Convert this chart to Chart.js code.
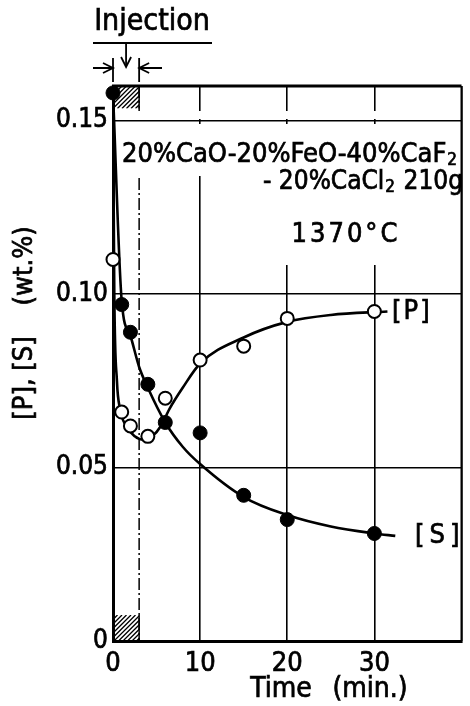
<!DOCTYPE html>
<html>
<head>
<meta charset="utf-8">
<script src="https://cdn.jsdelivr.net/npm/chart.js@4.4.1/dist/chart.umd.min.js"></script>
<style>
  html, body { margin: 0; padding: 0; background: #fff; }
  #wrap { width: 470px; height: 706px; }
</style>
</head>
<body>
<div id="wrap"><canvas id="chart" width="470" height="706"></canvas></div>
<script>
// measured points
const sTime = [0, 1, 2, 4, 6, 10, 15, 20, 30];
const sVals = [0.158, 0.097, 0.089, 0.074, 0.063, 0.060, 0.042, 0.035, 0.031];
const pTime = [0, 1, 2, 4, 6, 10, 15, 20, 30];
const pVals = [0.110, 0.066, 0.062, 0.059, 0.070, 0.081, 0.085, 0.093, 0.095];

// drawn (fitted) curves
const sCurveX = [0, 1, 2, 3, 4, 6, 8, 10, 15, 20, 25, 30, 32.4];
const sCurveY = [0.158, 0.098, 0.088, 0.079, 0.073, 0.063, 0.056, 0.051, 0.0415, 0.0363, 0.033, 0.031, 0.0303];
const pCurveX = [0, 0.15, 0.45, 0.8, 1.5, 2.5, 3.5, 4.5, 5.5, 6.5, 8, 10, 15, 20, 25, 31.5];
const pCurveY = [0.157, 0.100, 0.075, 0.067, 0.062, 0.059, 0.058, 0.059, 0.062, 0.067, 0.073, 0.080, 0.0875, 0.092, 0.094, 0.095];

const xTicks = [0, 10, 20, 30, 40];
const xLabels = ['0', '10', '20', '30', ''];
const yTicks = [0, 0.05, 0.10, 0.15];
const yLabels = ['0', '0.05', '0.10', '0.15'];

const injectStart = 0, injectEnd = 3;

const FONT = '"DejaVu Sans Condensed", "Liberation Sans Narrow", "DejaVu Sans", sans-serif';

const pts = (xs, ys) => xs.map((v, i) => ({ x: v, y: ys[i] }));

function hatch(ctx, x0, y0, x1, y1) {
  ctx.save();
  ctx.beginPath();
  ctx.rect(x0, y0, x1 - x0, y1 - y0);
  ctx.clip();
  ctx.strokeStyle = '#000';
  ctx.lineWidth = 1.3;
  ctx.beginPath();
  const h = y1 - y0;
  for (let k = -h; k < (x1 - x0) + h; k += 4.5) {
    ctx.moveTo(x0 + k, y1);
    ctx.lineTo(x0 + k + h, y0);
  }
  ctx.stroke();
  ctx.restore();
}

function arrowHead(ctx, x, y, dx, dy) {
  // tip at (x,y), pointing along (dx,dy)
  const len = 10, w = 5;
  const px = -dy, py = dx;
  ctx.beginPath();
  ctx.moveTo(x - dx * len + px * w, y - dy * len + py * w);
  ctx.lineTo(x, y);
  ctx.lineTo(x - dx * len - px * w, y - dy * len - py * w);
  ctx.stroke();
}

// text with a thin outline so it reads as heavy as the print
function text(ctx, s, x, y, size, spacing) {
  ctx.save();
  ctx.font = size + 'px ' + FONT;
  ctx.letterSpacing = (spacing || 0) + 'px';
  ctx.lineWidth = 0.7;
  ctx.strokeText(s, x, y);
  ctx.fillText(s, x, y);
  const w = ctx.measureText(s).width;
  ctx.restore();
  return w;
}

const deco = {
  id: 'deco',
  beforeDatasetsDraw(chart) {
    const { ctx, chartArea: a, scales: { x, y } } = chart;
    ctx.save();
    // gaps in the grid behind the notes
    ctx.fillStyle = '#fff';
    ctx.fillRect(116, 111, a.right - 118, 8);
    ctx.fillRect(116, 124, a.right - 118, 52);
    ctx.fillRect(252, 124, a.right - 254, 141);

    // injection period: dash-dot line and hatched boxes
    const xi = x.getPixelForValue(injectEnd);
    const x0 = x.getPixelForValue(injectStart);
    ctx.strokeStyle = '#000';
    ctx.lineWidth = 1.5;
    ctx.setLineDash([12, 3, 2, 3]);
    ctx.beginPath();
    ctx.moveTo(xi, a.top); ctx.lineTo(xi, 111);
    ctx.moveTo(xi, 178); ctx.lineTo(xi, a.bottom);
    ctx.stroke();
    ctx.setLineDash([]);
    ctx.beginPath();
    ctx.moveTo(xi, a.top); ctx.lineTo(xi, y.getPixelForValue(0.1535));
    ctx.moveTo(xi, y.getPixelForValue(0.0075)); ctx.lineTo(xi, a.bottom);
    ctx.stroke();
    hatch(ctx, x0, a.top, xi, y.getPixelForValue(0.1535));
    hatch(ctx, x0, y.getPixelForValue(0.0075), xi, a.bottom);
    ctx.restore();
  },
  afterDraw(chart) {
    const { ctx, chartArea: a, scales: { x } } = chart;
    ctx.save();
    ctx.strokeStyle = '#000';
    ctx.fillStyle = '#000';
    // frame top and right
    ctx.lineWidth = 3;
    ctx.beginPath();
    ctx.moveTo(a.left - 1, a.top); ctx.lineTo(a.right, a.top);
    ctx.stroke();
    ctx.lineWidth = 2;
    ctx.beginPath();
    ctx.moveTo(a.right, a.top); ctx.lineTo(a.right, a.bottom);
    ctx.stroke();

    // notes
    ctx.textBaseline = 'middle';
    ctx.textAlign = 'left';
    const w1 = text(ctx, '20%CaO-20%FeO-40%CaF', 122, 155, 27);
    text(ctx, '2', 122 + w1 + 1, 161, 17);
    const w2 = text(ctx, '- 20%CaCl', 263, 182, 26);
    text(ctx, '2', 263 + w2 + 1, 188, 17);
    ctx.textAlign = 'right';
    text(ctx, '210g', 463, 182, 26);
    ctx.textAlign = 'center';
    text(ctx, '1370°C', 346, 235, 27, 3);

    // series labels
    ctx.textAlign = 'left';
    text(ctx, '[P]', 392, 312, 27, 2);
    text(ctx, '[S]', 415, 536, 27, 5);

    // axis titles
    ctx.textAlign = 'center';
    text(ctx, 'Time', 281, 690, 28);
    text(ctx, '(min.)', 370, 690, 28);
    ctx.save();
    ctx.translate(25, 323);
    ctx.rotate(-Math.PI / 2);
    text(ctx, '[P], [S]    (wt.%)', 0, 0, 27);
    ctx.restore();

    // Injection marker
    text(ctx, 'Injection', 152, 22, 30);
    ctx.lineWidth = 1.8;
    ctx.beginPath();
    ctx.moveTo(93, 43); ctx.lineTo(212, 43);
    const xs = x.getPixelForValue(injectStart);
    const xe = x.getPixelForValue(injectEnd);
    const xm = (xs + xe) / 2;
    ctx.moveTo(xm, 43); ctx.lineTo(xm, 67);
    ctx.moveTo(xs, 58); ctx.lineTo(xs, 82);
    ctx.moveTo(xe, 58); ctx.lineTo(xe, 82);
    ctx.moveTo(93, 68); ctx.lineTo(xs, 68);
    ctx.moveTo(xe, 68); ctx.lineTo(162, 68);
    ctx.stroke();
    arrowHead(ctx, xm, 67, 0, 1);
    arrowHead(ctx, xs, 68, 1, 0);
    arrowHead(ctx, xe, 68, -1, 0);
    ctx.restore();
  }
};

new Chart(document.getElementById('chart'), {
  type: 'scatter',
  data: {
    datasets: [
      {
        label: '[S] points',
        data: pts(sTime, sVals),
        pointRadius: 7,
        pointBackgroundColor: '#000',
        pointBorderColor: '#000',
        pointBorderWidth: 1,
        clip: false
      },
      {
        label: '[P] points',
        data: pts(pTime, pVals),
        pointRadius: 6.5,
        pointBackgroundColor: '#fff',
        pointBorderColor: '#000',
        pointBorderWidth: 2,
        clip: false
      },
      {
        label: '[S] curve',
        data: pts(sCurveX, sCurveY),
        showLine: true,
        pointRadius: 0,
        borderColor: '#000',
        borderWidth: 2.6,
        cubicInterpolationMode: 'monotone'
      },
      {
        label: '[P] curve',
        data: pts(pCurveX, pCurveY),
        showLine: true,
        pointRadius: 0,
        borderColor: '#000',
        borderWidth: 2.6,
        cubicInterpolationMode: 'monotone'
      }
    ]
  },
  options: {
    responsive: false,
    animation: false,
    layout: { padding: { top: 86, right: 3, left: 0, bottom: 0 } },
    plugins: { legend: { display: false }, tooltip: { enabled: false } },
    scales: {
      x: {
        type: 'linear',
        min: 0, max: 40,
        afterBuildTicks: s => { s.ticks = xTicks.map(v => ({ value: v })); },
        afterFit: s => { s.height = 65; },
        ticks: {
          color: '#000',
          font: { size: 27, family: FONT },
          textStrokeColor: '#000',
          textStrokeWidth: 0.7,
          padding: 7,
          maxRotation: 0,
          callback: v => xLabels[xTicks.indexOf(v)]
        },
        grid: { color: '#000', lineWidth: 1.6, drawTicks: false },
        border: { color: '#000', width: 3 }
      },
      y: {
        min: 0, max: 0.16,
        afterBuildTicks: s => { s.ticks = yTicks.map(v => ({ value: v })); },
        afterFit: s => { s.width = 113; },
        ticks: {
          color: '#000',
          font: { size: 26, family: FONT },
          textStrokeColor: '#000',
          textStrokeWidth: 0.7,
          padding: 5,
          callback: v => yLabels[yTicks.indexOf(v)]
        },
        grid: { color: '#000', lineWidth: 1.6, drawTicks: false },
        border: { color: '#000', width: 3 }
      }
    }
  },
  plugins: [deco]
});
</script>
</body>
</html>
